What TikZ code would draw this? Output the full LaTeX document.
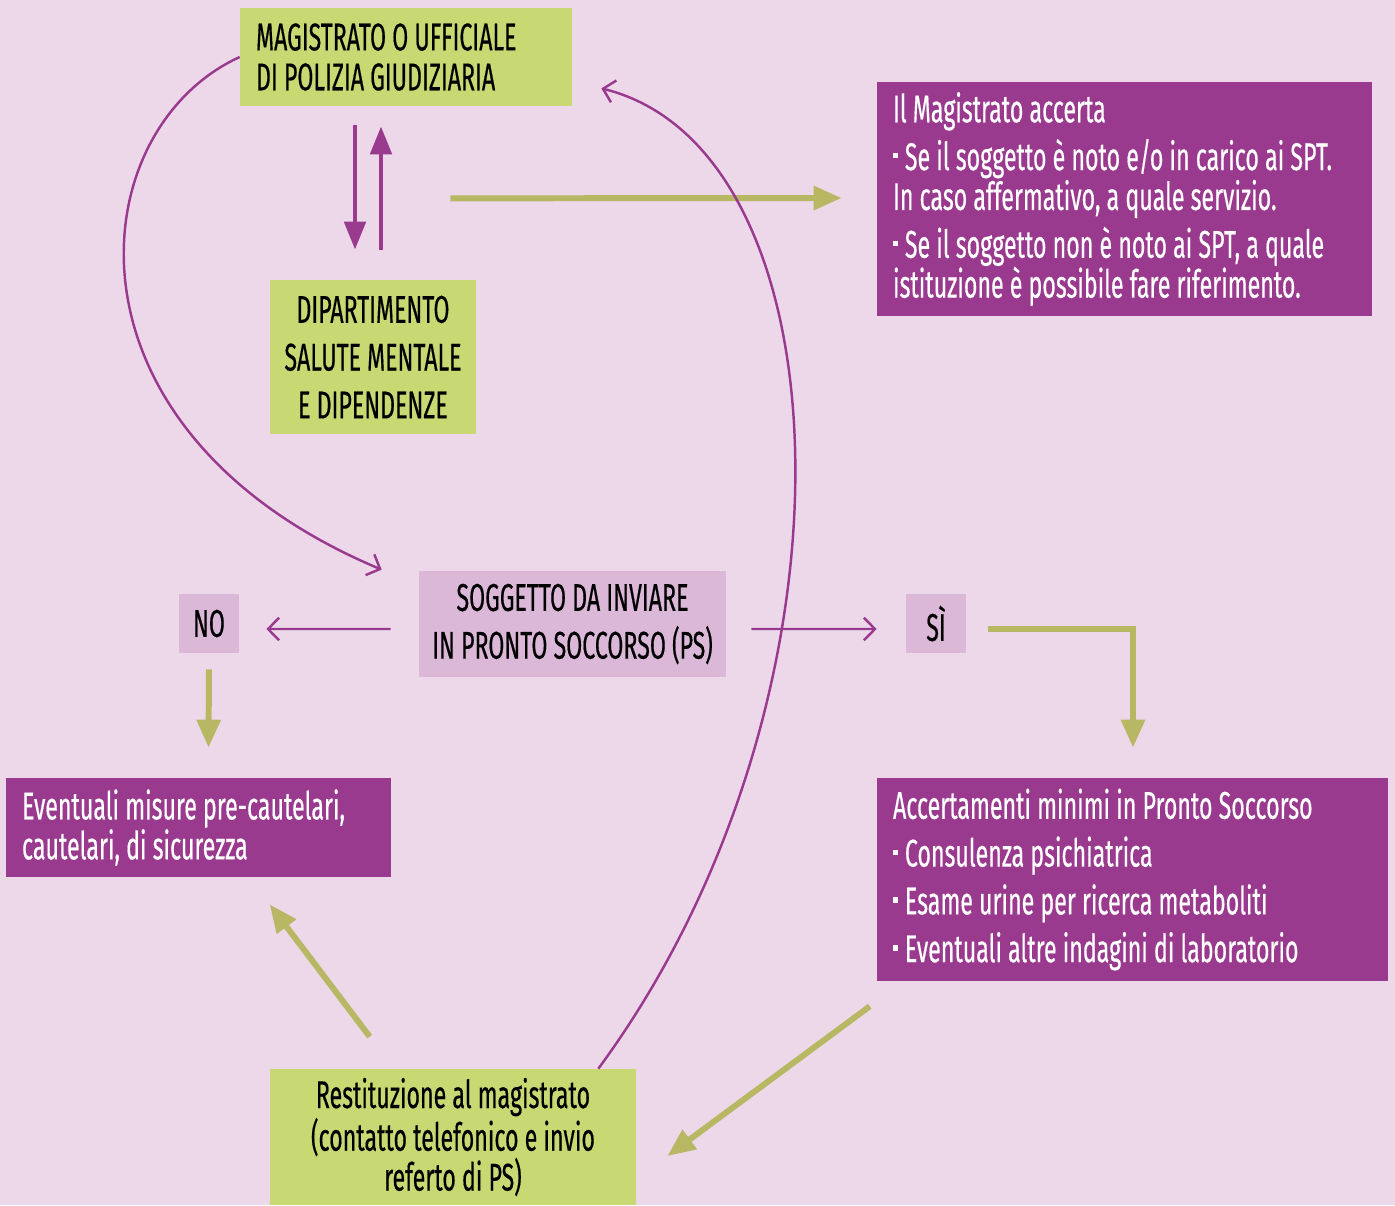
\documentclass[tikz,border=0pt]{standalone}
\usepackage{fontspec}
\setmainfont[FakeStretch=0.6, FakeBold=0.4]{Fira Sans}
\usetikzlibrary{arrows.meta,calc}
\definecolor{bgpink}{HTML}{ECD8E9}
\definecolor{boxgreen}{HTML}{C8D873}
\definecolor{boxpurple}{HTML}{9A3A8E}
\definecolor{lightpurple}{HTML}{DCB8D8}
\definecolor{arrowgreen}{HTML}{B8B864}
\newcommand{\blt}{\rule[0.3em]{0.14em}{0.14em}\,}

\begin{document}
\begin{tikzpicture}[x=0.02cm, y=-0.02cm,
  greenbox/.style={fill=boxgreen, inner sep=0pt, text=black, font=\fontsize{22}{22.7}\selectfont},
  purplebox/.style={fill=boxpurple, inner sep=0pt, text=white, align=flush left, font=\fontsize{22}{22.7}\selectfont},
  answer/.style={fill=lightpurple, inner sep=0pt, text=black, font=\fontsize{22}{27.2}\selectfont},
  thinline/.style={draw=boxpurple, line width=1.4pt, -{Straight Barb[length=0.22cm, width=0.45cm, line width=1.4pt]}},
  thickline/.style={draw=boxpurple, line width=2.8pt, -{Triangle[length=0.56cm, width=0.42cm]}},
  greenline/.style={draw=arrowgreen, line width=3.4pt, -{Triangle[length=0.56cm, width=0.46cm]}}]
  % Background
  \fill[bgpink] (0,0) rectangle (1395,1205);
  \useasboundingbox (0,0) rectangle (1395,1205);

  % Boxes
  \node[greenbox, minimum width=6.64cm, minimum height=1.96cm, text width=6.0cm, align=flush left] (mag) at (406,57)
    {MAGISTRATO O UFFICIALE\\DI POLIZIA GIUDIZIARIA};
  \node[greenbox, minimum width=4.12cm, minimum height=3.08cm, align=center, font=\fontsize{22}{27.2}\selectfont] (dsm) at (373,357)
    {DIPARTIMENTO\\SALUTE MENTALE\\E DIPENDENZE};
  \node[purplebox, minimum width=9.9cm, minimum height=4.68cm, text width=9.26cm] (accerta) at (1124.5,199)
    {Il Magistrato accerta\\[4.5pt]
     \blt Se il soggetto è noto e/o in carico ai SPT.\\
     In caso affermativo, a quale servizio.\\[4.5pt]
     \blt Se il soggetto non è noto ai SPT, a quale\\
     istituzione è possibile fare riferimento.};
  \node[answer, minimum width=6.14cm, minimum height=2.12cm, align=center] (soggetto) at (572.5,624)
    {SOGGETTO DA INVIARE\\IN PRONTO SOCCORSO (PS)};
  \node[answer, minimum width=1.2cm, minimum height=1.18cm] (no) at (209,623.5) {NO};
  \node[answer, minimum width=1.2cm, minimum height=1.18cm] (si) at (936,623.5) {SÌ};
  \node[purplebox, minimum width=7.7cm, minimum height=1.98cm, text width=7.06cm] (misure) at (198.5,827.5)
    {Eventuali misure pre-cautelari,\\cautelari, di sicurezza};
  \node[purplebox, minimum width=10.22cm, minimum height=4.06cm, text width=9.58cm, font=\fontsize{22}{27.2}\selectfont] (esami) at (1132.5,879.5)
    {Accertamenti minimi in Pronto Soccorso\\
     \blt Consulenza psichiatrica\\
     \blt Esame urine per ricerca metaboliti\\
     \blt Eventuali altre indagini di laboratorio};
  \node[greenbox, minimum width=7.32cm, minimum height=2.72cm, align=center] (rest) at (453,1137)
    {Restituzione al magistrato\\(contatto telefonico e invio\\referto di PS)};

  % Arrows between magistrate and DSM
  \draw[thickline] ($(mag.south)+(-51,19)$) -- ($(dsm.north)+(-18,-30)$);
  \draw[thickline] ($(dsm.north)+(8,-30)$) -- ($(mag.south)+(-25,20)$);
  \draw[greenline] ($(mag.south east)+(-122,92)$) -- ($(accerta.west)+(-35,-1)$);

  % Curves
  \draw[thinline] (mag.west) .. controls (80,130) and (50,430) .. ($(soggetto.north west)+(-37,-1)$);
  \draw[thinline] ($(rest.north east)+(-38,0)$) .. controls (870,700) and (850,150) .. ($(mag.south east)+(29,-18)$);

  % Answers
  \draw[thinline] ($(soggetto.west)+(-28,5)$) -- ($(no.east)+(27,5.5)$);
  \draw[thinline] ($(soggetto.east)+(25,5)$) -- ($(si.west)+(-29,5.5)$);
  \draw[greenline] ($(no.south)+(0,16)$) -- ($(misure.north)+(10,-30)$);
  \draw[greenline] ($(si.east)+(22,5.5)$) -| ($(esami.north)+(0.5,-30)$);

  % Back to the magistrate
  \draw[greenline] ($(esami.south west)+(-7,25)$) -- ($(rest.east)+(31,19)$);
  \draw[greenline] ($(rest.north west)+(100,-32)$) -- ($(misure.south west)+(264,27)$);
\end{tikzpicture}
\end{document}
